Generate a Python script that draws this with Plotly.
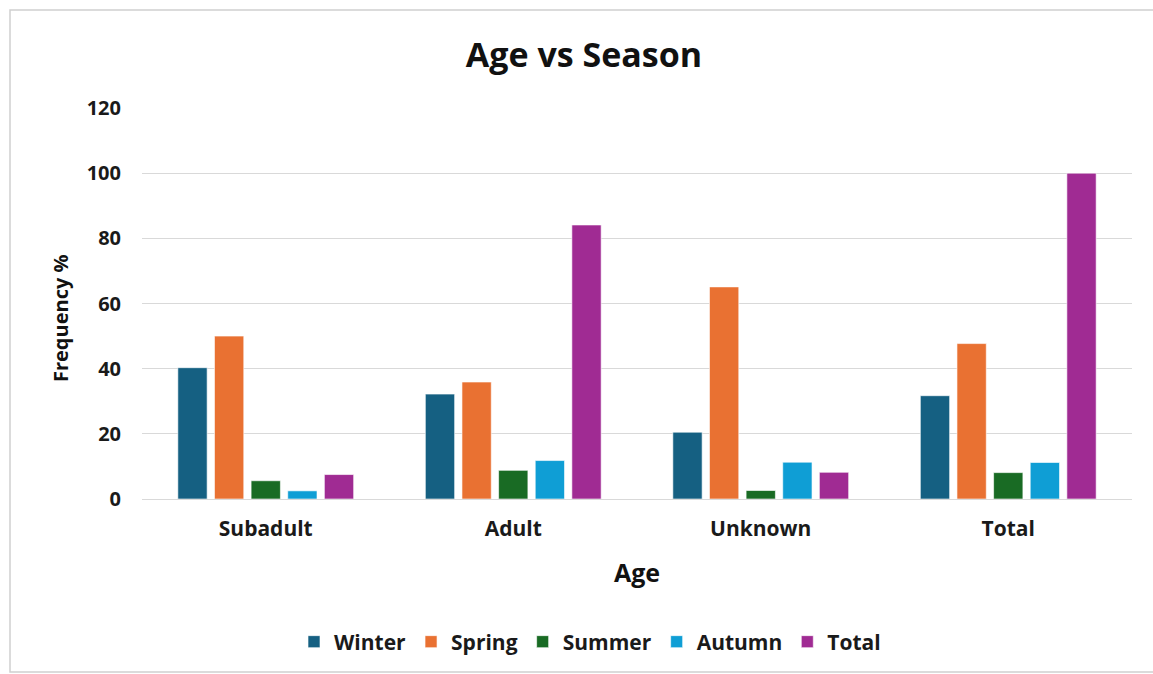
import plotly.graph_objects as go

# Age groups on the x axis
categories = ["Subadult", "Adult", "Unknown", "Total"]

# Frequency (%) per season within each age group
winter = [40.3, 32.2, 20.5, 31.7]
spring = [50.0, 35.9, 65.1, 47.7]
summer = [5.6, 8.8, 2.6, 8.1]
autumn = [2.5, 11.8, 11.3, 11.2]
total = [7.5, 84.1, 8.2, 100.0]

series = [
    ("Winter", winter, "#156082"),
    ("Spring", spring, "#E97132"),
    ("Summer", summer, "#196B24"),
    ("Autumn", autumn, "#0F9ED5"),
    ("Total", total, "#A02B93"),
]

W, H = 1153, 674
L, R, T, B = 142, 21, 108, 175
pw, ph = W - L - R, H - T - B

FONT = "Open Sans"
INK = "#1a1a1a"

fig = go.Figure()
for name, vals, color in series:
    fig.add_trace(go.Bar(
        name=f"<b>{name}</b>", x=categories, y=vals,
        marker=dict(color=color, line=dict(color="rgba(255,255,255,0.6)", width=1)),
    ))


def px_x(p):
    return (p - L) / pw


def px_y(p):
    return (H - B - p) / ph


fig.update_layout(
    width=W, height=H,
    margin=dict(l=L, r=R, t=T, b=B, autoexpand=False),
    paper_bgcolor="white", plot_bgcolor="white",
    barmode="group", bargap=0.26, bargroupgap=0.2,
    font=dict(family=FONT, color=INK),
    title=dict(text="<b>Age vs Season</b>", xref="container", x=584 / W, xanchor="center",
               yref="container", y=1 - 55 / H, yanchor="middle",
               font=dict(size=34, family=FONT, color="#111111")),
    xaxis=dict(
        showgrid=False, showline=False, zeroline=False, ticks="",
        tickfont=dict(size=21, family=FONT, color=INK),
        ticklabelstandoff=15,
        tickprefix="<b>", ticksuffix="</b>",
        title=dict(text="<b>Age</b>", font=dict(size=25, family=FONT, color="#111111"), standoff=23),
    ),
    yaxis=dict(
        range=[0, 120], dtick=20, showgrid=True, gridcolor="#d9d9d9", gridwidth=1.3,
        zeroline=True, zerolinecolor="#d9d9d9", zerolinewidth=1.3,
        showline=False, ticks="",
        tickfont=dict(size=20, family=FONT, color=INK),
        ticklabelstandoff=20,
        tickprefix="<b>", ticksuffix="</b>",
    ),
    annotations=[dict(
        text="<b>Frequency %</b>", textangle=-90, showarrow=False,
        xref="paper", yref="paper", x=px_x(60), y=px_y(318),
        xanchor="center", yanchor="middle",
        font=dict(size=20, family=FONT, color="#111111"),
    )],
    legend=dict(
        orientation="h", x=590 / W, xref="container", xanchor="center",
        y=px_y(642), yanchor="middle",
        font=dict(size=21, family=FONT, color=INK),
        itemwidth=30, traceorder="normal",
    ),
    shapes=[dict(
        type="rect", xref="paper", yref="paper",
        x0=px_x(10), x1=px_x(1160), y0=px_y(672), y1=px_y(10),
        line=dict(color="#d0d0d0", width=1.5), fillcolor="rgba(0,0,0,0)", layer="below",
    )],
)

fig.write_html("out.html")
